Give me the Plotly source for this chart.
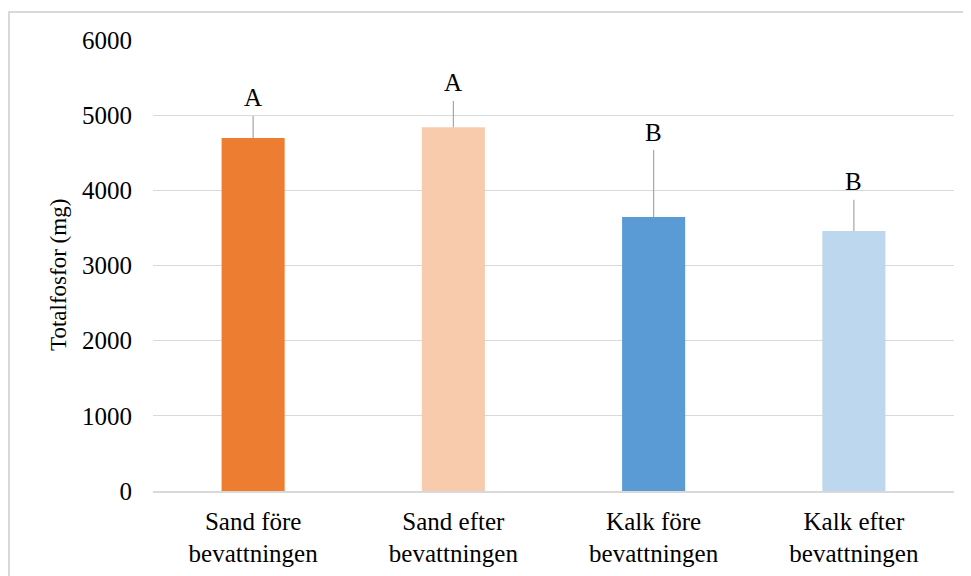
import plotly.graph_objects as go

categories = ["Sand före<br>bevattningen", "Sand efter<br>bevattningen",
              "Kalk före<br>bevattningen", "Kalk efter<br>bevattningen"]
values = [4695, 4840, 3645, 3460]
errors = [295, 350, 890, 415]
letters = ["A", "A", "B", "B"]
colors = ["#ED7D31", "#F8CBAD", "#5B9BD5", "#BDD7EE"]
y_ticks = [0, 1000, 2000, 3000, 4000, 5000, 6000]
y_title = "Totalfosfor (mg)"

FONT = "Liberation Serif, Times New Roman, serif"

fig = go.Figure()
fig.add_trace(go.Bar(
    x=categories, y=values, marker=dict(color=colors, line=dict(width=0)),
    width=0.315,
    error_y=dict(type="data", symmetric=False, array=errors,
                 arrayminus=[0] * len(errors), color="#a6a6a6",
                 thickness=1.2, width=0),
    hoverinfo="skip",
))

for c, v, e, t in zip(categories, values, errors, letters):
    fig.add_annotation(x=c, y=v + e, text=t, showarrow=False,
                       yanchor="middle", yshift=18,
                       font=dict(family=FONT, size=25, color="#000000"))

# page body has an 8px offset; plot area target 153..954 x 40..491 on screen
W, H = 971, 576
OFF = 8
ml, mr, mt, mb = 153 - OFF, W - (954 - OFF), 40 - OFF, H - (491 - OFF)
pw, ph = W - ml - mr, H - mt - mb


def px_x(p):
    return (p - OFF - ml) / pw


def px_y(p):
    return (H - mb - (p - OFF)) / ph


fig.add_shape(type="rect", xref="paper", yref="paper",
              x0=px_x(9), x1=px_x(1000), y0=px_y(600), y1=px_y(12),
              line=dict(color="#d9d9d9", width=2), fillcolor="rgba(0,0,0,0)",
              layer="below")

fig.add_annotation(xref="paper", yref="paper", x=px_x(58), y=px_y(275),
                   text=y_title, textangle=-90, showarrow=False,
                   xanchor="center", yanchor="middle",
                   font=dict(family=FONT, size=23, color="#000000"))

fig.update_layout(
    width=W, height=H,
    margin=dict(l=ml, r=mr, t=mt, b=mb),
    paper_bgcolor="white", plot_bgcolor="white",
    showlegend=False,
    font=dict(family=FONT, size=24, color="#000000"),
    xaxis=dict(showgrid=False, showline=True, linecolor="#d9d9d9",
               linewidth=1.5, ticks="",
               tickfont=dict(family=FONT, size=25, color="#000000"),
               ticklabelstandoff=7, range=[-0.5, 3.5]),
    yaxis=dict(range=[0, 6000], tickvals=y_ticks, showgrid=True,
               gridcolor="#d9d9d9", gridwidth=1, zeroline=False,
               showline=False, ticks="",
               tickfont=dict(family=FONT, size=25, color="#000000"),
               ticklabelstandoff=20),
)

fig.write_html("out.html")
